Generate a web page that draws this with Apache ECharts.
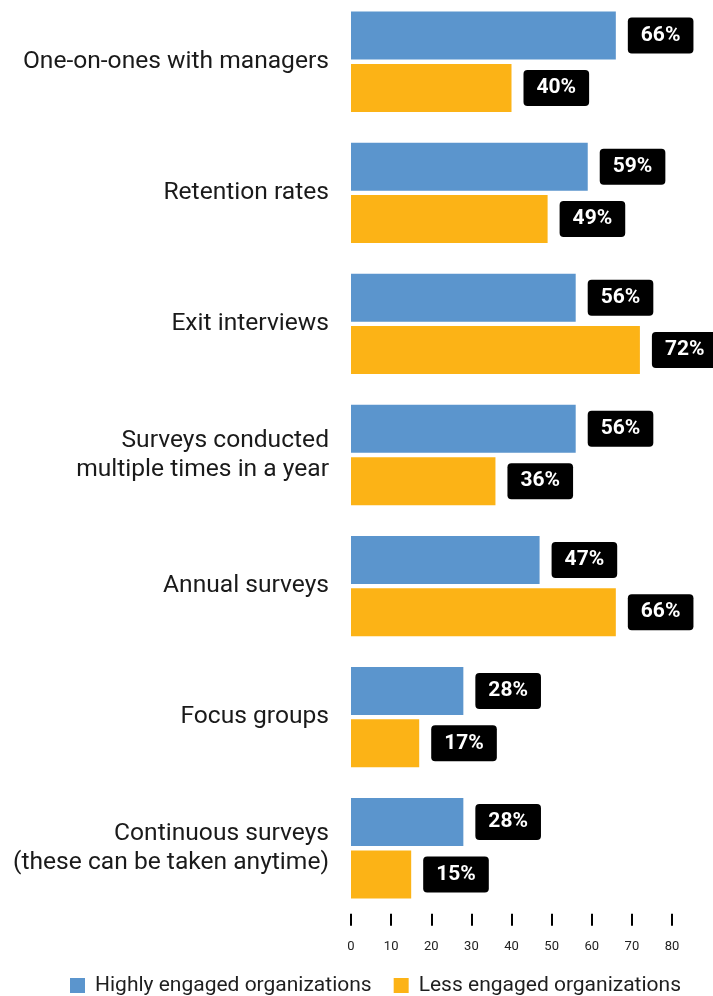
<!DOCTYPE html>
<html>
<head>
<meta charset="utf-8">
<script src="https://cdn.jsdelivr.net/npm/echarts@6/dist/echarts.min.js"></script>
<style>
  html, body { margin: 0; padding: 0; background: #ffffff; }
  #chart { width: 713px; height: 996px; }
</style>
</head>
<body>
<div id="chart"></div>
<script>
// Categories, top to bottom
const categories = [
  'One-on-ones with managers',
  'Retention rates',
  'Exit interviews',
  'Surveys conducted\nmultiple times in a year',
  'Annual surveys',
  'Focus groups',
  'Continuous surveys\n(these can be taken anytime)'
];
// Share of organizations (%) using each practice
const highlyEngaged = [66, 59, 56, 56, 47, 28, 28];
const lessEngaged = [40, 49, 72, 36, 66, 17, 15];
const seriesNames = ['Highly engaged organizations', 'Less engaged organizations'];
const xTicks = { min: 0, max: 80, interval: 10 };

const FONT = 'Roboto, "Noto Sans", sans-serif';

const valueLabel = {
  show: true,
  position: 'right',
  distance: 12,
  formatter: '{c}%',
  color: '#ffffff',
  fontFamily: FONT,
  fontWeight: 'bold',
  fontSize: 21,
  backgroundColor: '#000000',
  borderRadius: 4,
  padding: [8, 13, 7, 13]
};

const chart = echarts.init(document.getElementById('chart'), null, { renderer: 'canvas' });
chart.setOption({
  animation: false,
  grid: {
    left: 351, right: 41, top: -3.8, bottom: 82.2,
    containLabel: false,
    outerBoundsMode: 'none'
  },
  legend: {
    left: 70,
    top: 975,
    padding: 0,
    icon: 'rect',
    itemWidth: 15,
    itemHeight: 15,
    itemGap: 22,
    textStyle: { fontFamily: FONT, fontSize: 21, color: '#1f1f1f', padding: [0, 0, 0, 5] },
    data: seriesNames
  },
  xAxis: {
    type: 'value',
    min: xTicks.min,
    max: xTicks.max,
    interval: xTicks.interval,
    axisLine: { show: false },
    axisTick: { show: true, length: 12, lineStyle: { color: '#000000', width: 2 } },
    splitLine: { show: false },
    axisLabel: { margin: 26, fontFamily: FONT, fontSize: 13, color: '#222222' }
  },
  yAxis: {
    type: 'category',
    inverse: true,
    data: categories,
    axisLine: { show: false },
    axisTick: { show: false },
    axisLabel: {
      margin: 22,
      fontFamily: FONT,
      fontSize: 24.6,
      lineHeight: 29,
      color: '#1a1a1a',
      align: 'right'
    }
  },
  series: [
    {
      name: seriesNames[0],
      type: 'bar',
      data: highlyEngaged,
      barWidth: 48,
      barGap: '9%',
      itemStyle: { color: '#5b95cd' },
      label: valueLabel
    },
    {
      name: seriesNames[1],
      type: 'bar',
      data: lessEngaged,
      barWidth: 48,
      barGap: '9%',
      itemStyle: { color: '#fcb316' },
      label: valueLabel
    }
  ]
});
</script>
</body>
</html>
